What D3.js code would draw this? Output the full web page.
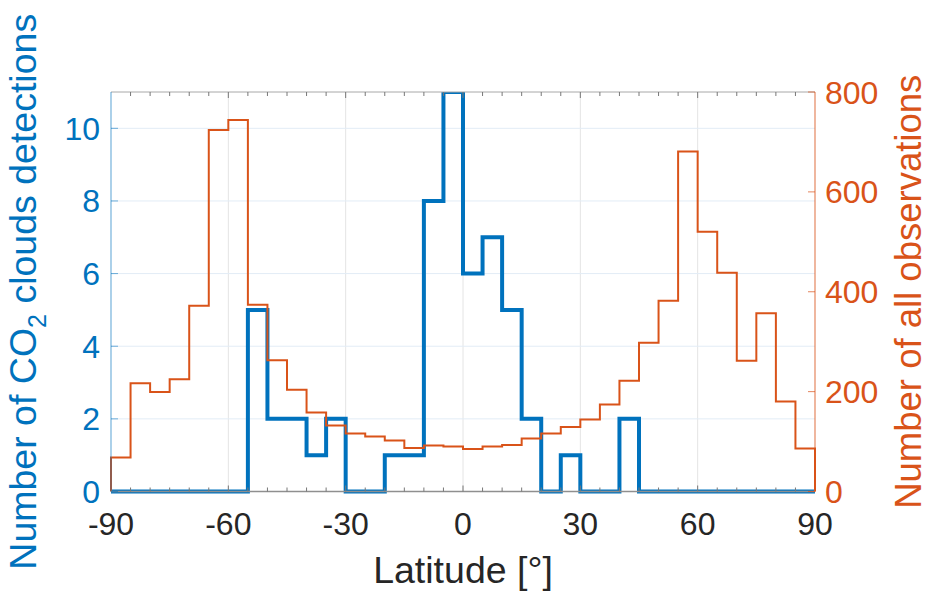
<!DOCTYPE html>
<html>
<head>
<meta charset="utf-8">
<script src="https://cdn.jsdelivr.net/npm/d3@7"></script>
<style>
  html, body { margin: 0; padding: 0; background: #fff; }
  svg { display: block; font-family: "Liberation Sans", Arial, Helvetica, sans-serif; }
</style>
</head>
<body>
<svg id="chart" width="929" height="591"></svg>
<script>
// 5-degree latitude bins, left edges from -90 to 85
const binEdges = d3.range(-90, 91, 5);

// CO2 cloud detections per bin (left axis)
const detections = [
  0, 0, 0, 0, 0, 0, 0, 5, 2, 2, 1, 2,
  0, 0, 1, 1, 8, 11, 6, 7, 5, 2, 0, 1,
  0, 0, 2, 0, 0, 0, 0, 0, 0, 0, 0, 0
];

// All observations per bin (right axis)
const observations = [
  68, 217, 199, 225, 372, 724, 744, 374, 263, 204, 158, 132,
  116, 110, 102, 87, 92, 90, 85, 90, 93, 106, 116, 129,
  144, 174, 222, 298, 382, 681, 520, 438, 262, 357, 180, 86
];

const xTicks = [-90, -60, -30, 0, 30, 60, 90];
const leftTicks = [0, 2, 4, 6, 8, 10];
const rightTicks = [0, 200, 400, 600, 800];

const BLUE = "#0072BD";
const ORANGE = "#D95319";
const DARK = "#262626";

const plot = { left: 111, right: 815, top: 92, bottom: 491.5 };

const svg = d3.select("#chart");

const x = d3.scaleLinear().domain([-90, 90]).range([plot.left, plot.right]);
const yL = d3.scaleLinear().domain([0, 11]).range([plot.bottom, plot.top]);
const yR = d3.scaleLinear().domain([0, 800]).range([plot.bottom, plot.top]);

// grid
const grid = svg.append("g");
grid.selectAll("line.v").data(xTicks.slice(1, -1)).join("line")
  .attr("x1", d => x(d)).attr("x2", d => x(d))
  .attr("y1", plot.top).attr("y2", plot.bottom)
  .attr("stroke", "#e4e4e4").attr("stroke-width", 1);
grid.selectAll("line.h").data(leftTicks.slice(1)).join("line")
  .attr("x1", plot.left).attr("x2", plot.right)
  .attr("y1", d => yL(d)).attr("y2", d => yL(d))
  .attr("stroke", "#e2ecf6").attr("stroke-width", 1);

// clip region for the stair lines
svg.append("clipPath").attr("id", "plotClip")
  .append("rect")
  .attr("x", plot.left - 3).attr("y", plot.top)
  .attr("width", plot.right - plot.left + 6).attr("height", plot.bottom - plot.top + 3);

// stairs outline: up from zero at the first edge, down to zero at the last
function stairs(values, y) {
  const pts = [[x(binEdges[0]), y(0)]];
  values.forEach((v, i) => {
    pts.push([x(binEdges[i]), y(v)]);
    pts.push([x(binEdges[i + 1]), y(v)]);
  });
  pts.push([x(binEdges[binEdges.length - 1]), y(0)]);
  return d3.line()(pts);
}

const lines = svg.append("g").attr("clip-path", "url(#plotClip)");
lines.append("path")
  .attr("d", stairs(detections, yL))
  .attr("fill", "none").attr("stroke", BLUE)
  .attr("stroke-width", 4).attr("stroke-linejoin", "miter");
lines.append("path")
  .attr("d", stairs(observations, yR))
  .attr("fill", "none").attr("stroke", ORANGE)
  .attr("stroke-width", 2).attr("stroke-linejoin", "miter");

// axes box
const minor = d3.range(-85, 90, 5);
const axesG = svg.append("g");
// bottom and top lines
axesG.append("line").attr("x1", plot.left).attr("x2", plot.right)
  .attr("y1", plot.bottom).attr("y2", plot.bottom)
  .attr("stroke", "#8f8f8f").attr("stroke-width", 1.3);
axesG.append("line").attr("x1", plot.left).attr("x2", plot.right)
  .attr("y1", plot.top).attr("y2", plot.top)
  .attr("stroke", "#a8a8a8").attr("stroke-width", 1);
// x ticks, inward on bottom and top
[plot.bottom, plot.top].forEach((yy, k) => {
  const dir = k === 0 ? -1 : 1;
  axesG.selectAll(null).data(minor).join("line")
    .attr("x1", d => x(d)).attr("x2", d => x(d))
    .attr("y1", yy).attr("y2", d => yy + dir * (xTicks.includes(d) ? 6 : 4))
    .attr("stroke", "#777").attr("stroke-width", 1);
});
// left axis
axesG.append("line").attr("x1", plot.left).attr("x2", plot.left)
  .attr("y1", plot.top).attr("y2", plot.bottom)
  .attr("stroke", BLUE).attr("stroke-opacity", 0.55).attr("stroke-width", 1.2);
axesG.selectAll(null).data(leftTicks).join("line")
  .attr("x1", plot.left).attr("x2", plot.left + 7)
  .attr("y1", d => yL(d)).attr("y2", d => yL(d))
  .attr("stroke", BLUE).attr("stroke-opacity", 0.55).attr("stroke-width", 1);
// right axis
axesG.append("line").attr("x1", plot.right).attr("x2", plot.right)
  .attr("y1", plot.top).attr("y2", plot.bottom)
  .attr("stroke", ORANGE).attr("stroke-opacity", 0.7).attr("stroke-width", 1.2);
axesG.selectAll(null).data(rightTicks).join("line")
  .attr("x1", plot.right).attr("x2", plot.right - 7)
  .attr("y1", d => yR(d)).attr("y2", d => yR(d))
  .attr("stroke", ORANGE).attr("stroke-opacity", 0.7).attr("stroke-width", 1);

// tick labels
const fs = 32;
svg.append("g").selectAll("text").data(xTicks).join("text")
  .attr("x", d => x(d)).attr("y", 535)
  .attr("text-anchor", "middle").attr("font-size", fs).attr("fill", DARK)
  .text(d => d);
svg.append("g").selectAll("text").data(leftTicks).join("text")
  .attr("x", 100).attr("y", d => yL(d) + 11.5)
  .attr("text-anchor", "end").attr("font-size", fs).attr("fill", BLUE)
  .text(d => d);
svg.append("g").selectAll("text").data(rightTicks).join("text")
  .attr("x", 825).attr("y", d => yR(d) + 11.5)
  .attr("text-anchor", "start").attr("font-size", fs).attr("fill", ORANGE)
  .text(d => d);

// axis titles
const midY = (plot.top + plot.bottom) / 2;
const titleSize = 37.5;
svg.append("text")
  .attr("x", (plot.left + plot.right) / 2).attr("y", 583)
  .attr("text-anchor", "middle").attr("font-size", titleSize).attr("fill", DARK)
  .text("Latitude [°]");

const yl = svg.append("text")
  .attr("transform", `translate(36,${midY}) rotate(-90)`)
  .attr("text-anchor", "middle").attr("font-size", titleSize).attr("fill", BLUE);
yl.append("tspan").text("Number of CO");
yl.append("tspan").attr("font-size", 25).attr("dy", 10).text("2");
yl.append("tspan").attr("dy", -10).text(" clouds detections");

svg.append("text")
  .attr("transform", `translate(921,${midY}) rotate(-90)`)
  .attr("text-anchor", "middle").attr("font-size", 36.5).attr("fill", ORANGE)
  .text("Number of all observations");
</script>
</body>
</html>
